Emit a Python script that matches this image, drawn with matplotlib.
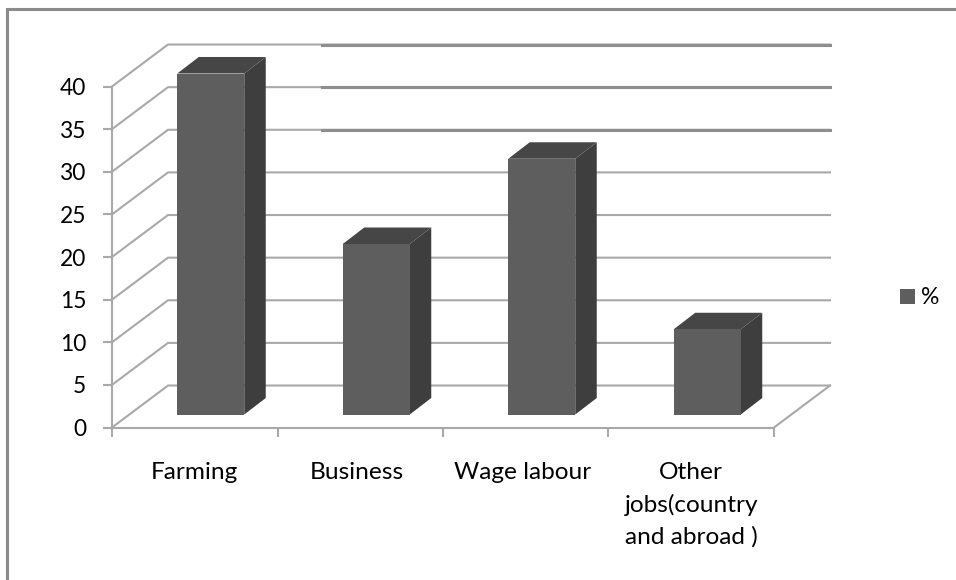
import matplotlib
matplotlib.use("Agg")
import matplotlib.pyplot as plt
from matplotlib.lines import Line2D
from matplotlib.patches import Patch, Polygon

categories = ["Farming", "Business", "Wage labour", "Other\njobs(country\nand abroad )"]
values = [40, 20, 30, 10]
y_ticks = [0, 5, 10, 15, 20, 25, 30, 35, 40]
dark_levels = [30, 35, 40]
series_name = "%"

W, H = 956, 580
FONT = "Lato"
GRID = "#a9a9a9"
FRONT = "#5e5e5e"
TOP = "#464646"
SIDE = "#3e3e3e"

# pixel scale of the axes, used for the fake 3D depth
PX_X = 165.5
PX_Y = 8.53
WALL_X = 56 / PX_X
WALL_Y = 42 / PX_Y
BAR_X = 16 / PX_X
BAR_Y = 13 / PX_Y
DEPTH_X = 21.5 / PX_X
DEPTH_Y = 16.5 / PX_Y
BAR_W = 67 / PX_X

plt.rcParams["font.family"] = [FONT, "DejaVu Sans"]
fig = plt.figure(figsize=(W / 100, H / 100), dpi=100, facecolor="white")

# only the left and top of the chart border are in the picture
fig.add_artist(Line2D([7 / W, 7 / W, 1], [0, 1 - 9 / H, 1 - 9 / H], transform=fig.transFigure,
                      color="#8c8c8c", linewidth=2.2, solid_joinstyle="miter"))

ax = fig.add_axes([112 / W, 1 - 427.5 / H, 662 / W, 341 / H])
ax.set_xlim(0, 4)
ax.set_ylim(0, 40)
ax.patch.set_alpha(0)
for name in ["top", "right"]:
    ax.spines[name].set_visible(False)
for name in ["left", "bottom"]:
    ax.spines[name].set_color(GRID)
    ax.spines[name].set_linewidth(1.5)

# walls and gridlines
for v in y_ticks:
    ax.plot([0, WALL_X, 4 + WALL_X], [v, v + WALL_Y, v + WALL_Y],
            color=GRID, lw=1.5, clip_on=False, zorder=1)
ax.plot([4, 4 + WALL_X], [0, WALL_Y], color=GRID, lw=1.5, clip_on=False, zorder=1)
for v in dark_levels:
    ax.plot([1.27, 4 + WALL_X], [v + WALL_Y, v + WALL_Y], color="#8e8e8e", lw=2.2,
            clip_on=False, zorder=1.5)

# bars
for i, v in enumerate(values):
    x0 = i + 0.5 - BAR_W / 2 + BAR_X
    x1 = x0 + BAR_W
    y0 = BAR_Y
    y1 = v + BAR_Y
    ax.add_patch(Polygon([(x1, y0), (x1 + DEPTH_X, y0 + DEPTH_Y), (x1 + DEPTH_X, y1 + DEPTH_Y), (x1, y1)],
                         facecolor=SIDE, edgecolor="none", clip_on=False, zorder=3))
    ax.add_patch(Polygon([(x0, y1), (x0 + DEPTH_X, y1 + DEPTH_Y), (x1 + DEPTH_X, y1 + DEPTH_Y), (x1, y1)],
                         facecolor=TOP, edgecolor="none", clip_on=False, zorder=3))
    ax.bar(i + 0.5 + BAR_X, v, width=BAR_W, bottom=BAR_Y, color=FRONT, clip_on=False, zorder=4)

ax.set_yticks(y_ticks)
ax.set_xticks(range(5))
ax.set_xticklabels([])
ax.tick_params(axis="both", color=GRID, width=1.5, length=6.5, labelsize=16.4, labelcolor="black")
ax.tick_params(axis="y", pad=12)

for i, name in enumerate(categories):
    # middle labels sit a touch left of the slot centre
    shift = -0.018 if 0 < i < 3 else 0
    ax.text(i + 0.5 + shift, -4.1, name, ha="center", va="top", fontsize=17.6,
            linespacing=1.58, color="black")

handle = Patch(facecolor=FRONT, edgecolor="none", label=series_name)
ax.legend(handles=[handle], loc="center left", bbox_to_anchor=(1.19, 0.38), frameon=False,
          fontsize=16.5, handlelength=0.66, handleheight=0.66, handletextpad=0.25,
          borderpad=0, borderaxespad=0)

fig.savefig("out.png", dpi=100, facecolor="white")
